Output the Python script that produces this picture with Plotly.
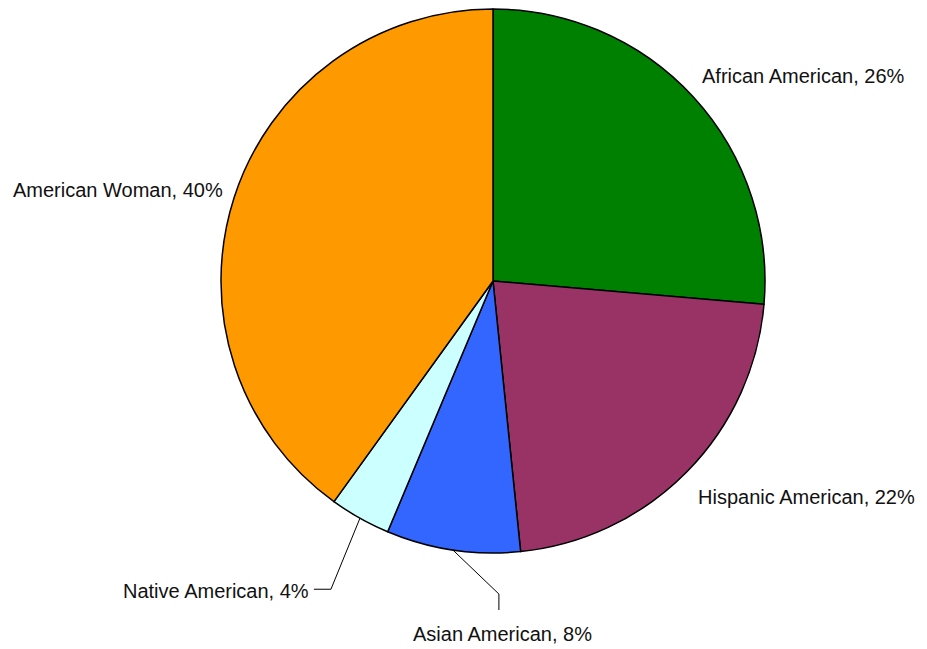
import math
import plotly.graph_objects as go

# ---- data ----
groups = ["African American", "Hispanic American", "Asian American",
          "Native American", "American Woman"]
shares = [26.36, 22.02, 7.95, 3.61, 40.06]
colors = ["#008000", "#993366", "#3366FF", "#CCFFFF", "#FF9900"]

# ---- layout constants ----
W, H = 927, 649
CX, CY, R = 493, 281, 272  # pie centre / radius in px

fig = go.Figure(go.Pie(
    labels=groups, values=shares, sort=False, direction="clockwise",
    rotation=0, textinfo="none", hoverinfo="skip",
    marker=dict(colors=colors, line=dict(color="black", width=1.5)),
    domain=dict(x=[(CX - R) / W, (CX + R) / W],
                y=[(H - CY - R) / H, (H - CY + R) / H]),
    showlegend=False,
))

def px2paper(x, y):
    return x / W, 1 - y / H

# label placement rules (style): nudges in px, and callout elbows
nudge = {0: (-13.4, -2.6), 1: (-10.4, 6.3), 4: (16.7, 1)}
callout = {2: [(46, 44), (0, 16)], 3: [(-29, 71), (-17, 0)]}

total = sum(shares)
cum = 0
annotations, shapes = [], []
for i, (g, v) in enumerate(zip(groups, shares)):
    mid = (cum + v / 2) / total * 2 * math.pi
    cum += v
    s, c = math.sin(mid), math.cos(mid)
    text = f"{g}, {round(100 * v / total)}%"
    if i in callout:
        ex, ey = CX + R * s, CY - R * c
        pts = [(ex, ey)]
        for dx, dy in callout[i]:
            pts.append((pts[-1][0] + dx, pts[-1][1] + dy))
        for (x0, y0), (x1, y1) in zip(pts[:-1], pts[1:]):
            a0, b0 = px2paper(x0, y0)
            a1, b1 = px2paper(x1, y1)
            shapes.append(dict(type="line", xref="paper", yref="paper",
                               x0=a0, y0=b0, x1=a1, y1=b1,
                               line=dict(color="black", width=1)))
        lx, ly = pts[-1]
        if callout[i][-1][0] == 0:  # vertical end -> text below
            ax, ay = px2paper(lx + 4, ly + 24)
            annotations.append(dict(x=ax, y=ay, xref="paper", yref="paper",
                                    text=text, showarrow=False,
                                    xanchor="center", yanchor="middle"))
        else:
            ax, ay = px2paper(lx - 3, ly + 2)
            annotations.append(dict(x=ax, y=ay, xref="paper", yref="paper",
                                    text=text, showarrow=False,
                                    xanchor="right", yanchor="middle"))
    else:
        lx, ly = CX + 1.1 * R * s, CY - 1.1 * R * c
        dx, dy = nudge.get(i, (0, 0))
        ax, ay = px2paper(lx + dx, ly + dy)
        annotations.append(dict(x=ax, y=ay, xref="paper", yref="paper",
                                text=text, showarrow=False,
                                xanchor="left" if s > 0 else "right",
                                yanchor="middle"))

fig.update_layout(
    width=W, height=H, margin=dict(l=0, r=0, t=0, b=0),
    paper_bgcolor="white", plot_bgcolor="white",
    font=dict(family="Liberation Sans, Arial, sans-serif", size=20, color="#111111"),
    annotations=annotations, shapes=shapes,
)

fig.write_html("out.html", config={"displayModeBar": False},
               post_script="document.body.style.margin='0';")
